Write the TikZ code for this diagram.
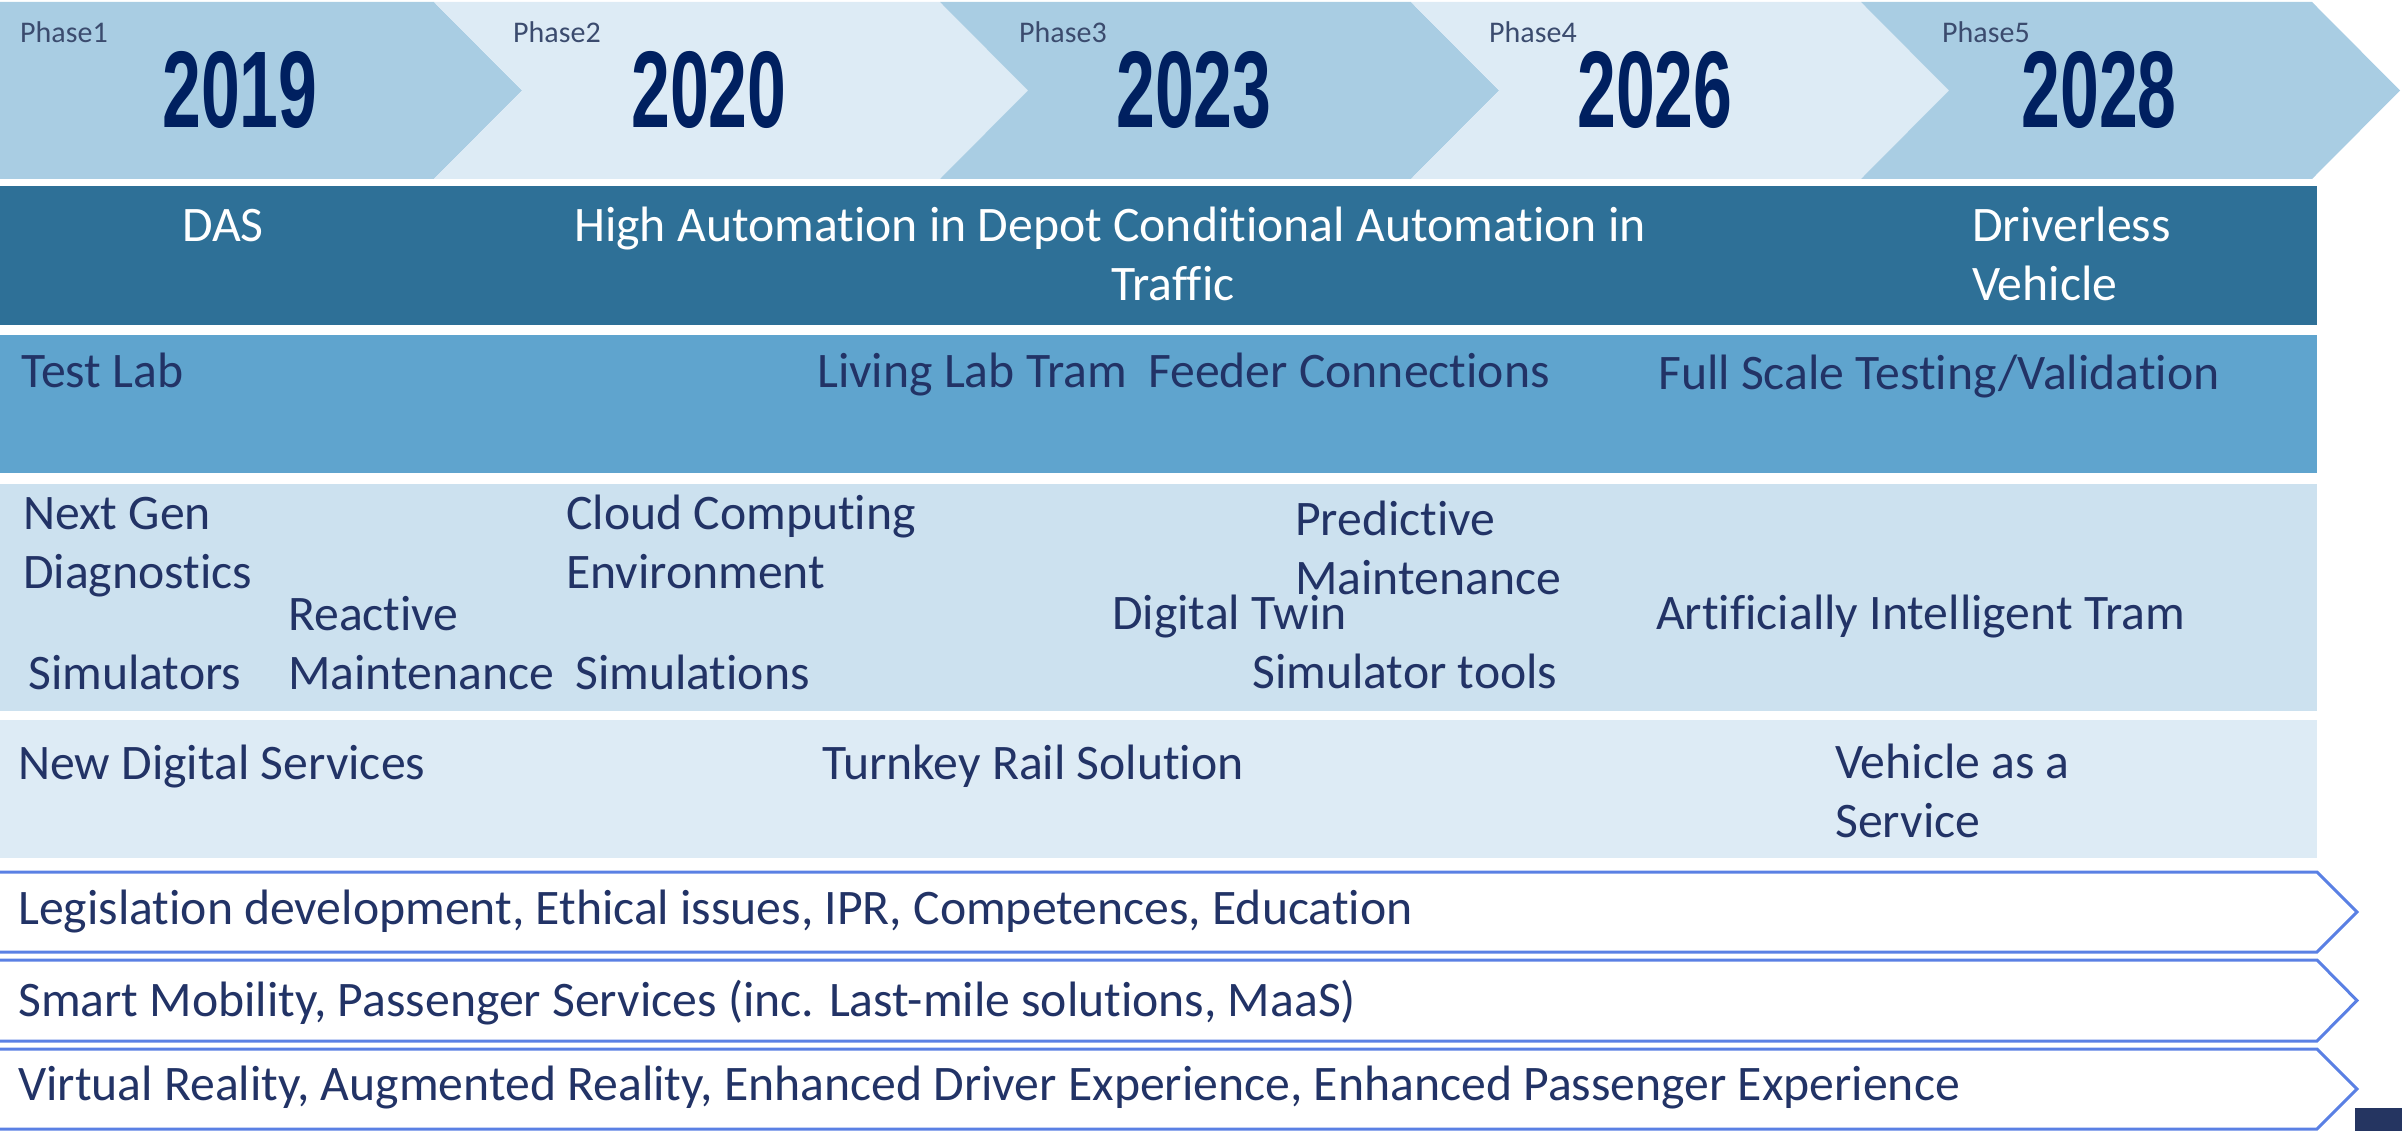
\documentclass[tikz,border=0pt]{standalone}
\usepackage{fontspec}
\usepackage{graphicx}
\setmainfont{Carlito}[Ligatures={NoCommon}]
\newfontfamily\yearfont{Liberation Sans}
\definecolor{chevA}{HTML}{A9CDE3}
\definecolor{chevB}{HTML}{DDEBF5}
\definecolor{bandDark}{HTML}{2E7097}
\definecolor{bandMid}{HTML}{5FA4CE}
\definecolor{bandLight}{HTML}{CCE1EF}
\definecolor{bandPale}{HTML}{DDEBF5}
\definecolor{outl}{HTML}{5A80E4}
\definecolor{txt}{HTML}{223366}
\definecolor{yeartxt}{HTML}{002060}
\definecolor{phasetxt}{HTML}{3B4B6E}
\definecolor{navysq}{HTML}{253561}
\tikzset{
  lbl/.style={inner sep=0pt, anchor=base west, font=\fontsize{49.7}{59}\selectfont, text=txt, align=left},
  wlbl/.style={lbl, text=white},
  phaselbl/.style={inner sep=0pt, anchor=base west, font=\fontsize{30}{36}\selectfont, text=phasetxt},
  yearlbl/.style={inner sep=0pt, anchor=base, text=yeartxt, font=\yearfont\bfseries\fontsize{109}{120}\selectfont},
  outlchev/.style={draw=outl, line width=3pt, line join=miter}
}
\newcommand{\yr}[1]{\scalebox{0.64}[1]{#1}}
\begin{document}
\begin{tikzpicture}[x=1pt,y=-1pt]
\useasboundingbox (0,0) rectangle (2402,1131);
% top chevrons
\fill[chevA] (0,2) -- (434,2) -- (522,90.5) -- (434,179) -- (0,179) -- cycle;
\fill[chevB] (434,2) -- (940,2) -- (1028,90.5) -- (940,179) -- (434,179) -- (522,90.5) -- cycle;
\fill[chevA] (940,2) -- (1411,2) -- (1499,90.5) -- (1411,179) -- (940,179) -- (1028,90.5) -- cycle;
\fill[chevB] (1411,2) -- (1861,2) -- (1949,90.5) -- (1861,179) -- (1411,179) -- (1499,90.5) -- cycle;
\fill[chevA] (1861,2) -- (2312,2) -- (2400,90.5) -- (2312,179) -- (1861,179) -- (1949,90.5) -- cycle;
% phase labels and years
\node[phaselbl] (p1) at (20,43) {Phase1};
\node[phaselbl] (p2) at (513,43) {Phase2};
\node[phaselbl] (p3) at (1019,43) {Phase3};
\node[phaselbl] (p4) at (1489,43) {Phase4};
\node[phaselbl] (p5) at (1942,43) {Phase5};
\node[yearlbl] (y1) at (240,128) {\yr{2019}};
\node[yearlbl] (y2) at (709,128) {\yr{2020}};
\node[yearlbl] (y3) at (1194,128) {\yr{2023}};
\node[yearlbl] (y4) at (1655,128) {\yr{2026}};
\node[yearlbl] (y5) at (2099,128) {\yr{2028}};
% bands
\fill[bandDark] (0,186) rectangle (2317,325);
\fill[bandMid] (0,335) rectangle (2317,473);
\fill[bandLight] (0,484) rectangle (2317,711);
\fill[bandPale] (0,720) rectangle (2317,858);
% dark band texts (multi-line nodes: base = last line)
\node[wlbl] (das) at (182,242) {DAS};
\node[wlbl] (hauto) at (574,242) {High Automation in Depot Conditional Automation in};
\node[wlbl] (traffic) at (1111,301) {Traffic};
\node[wlbl] (driverless) at (1972,301) {Driverless\\Vehicle};
% mid band
\node[lbl] (testlab) at (21,388) {Test Lab};
\node[lbl] (living) at (817,388) {Living Lab Tram};
\node[lbl] (feeder) at (1148,388) {Feeder Connections};
\node[lbl] (fullscale) at (1658,390) {Full Scale Testing/Validation};
% light band
\node[lbl] (nextgen) at (23,588) {Next Gen\\Diagnostics};
\node[lbl] (reactive) at (288,689) {Reactive\\Maintenance};
\node[lbl] (simulators) at (28,689) {Simulators};
\node[lbl] (cloud) at (566,588) {Cloud Computing\\Environment};
\node[lbl] (simulations) at (575,689) {Simulations};
\node[lbl] (predictive) at (1295,594) {Predictive\\Maintenance};
\node[lbl] (twin) at (1112,629) {Digital Twin};
\node[lbl] (simtools) at (1252,688) {Simulator tools};
\node[lbl] (ai) at (1656,629) {Artificially Intelligent Tram};
% pale band
\node[lbl] (newdig) at (18,779) {New Digital Services};
\node[lbl] (turnkey) at (822,779) {Turnkey Rail Solution};
\node[lbl] (vaas) at (1835,837) {Vehicle as a\\Service};
% outline chevrons
\draw[outlchev] (-5,872) -- (2317,872) -- (2357,912) -- (2317,952) -- (-5,952);
\draw[outlchev] (-5,960) -- (2317,960) -- (2357,1000.5) -- (2317,1041) -- (-5,1041);
\draw[outlchev] (-5,1049) -- (2317,1049) -- (2357,1089) -- (2317,1129) -- (-5,1129);
\node[lbl] (legis) at (18,924) {Legislation development, Ethical issues, IPR, Competences, Education};
\node[lbl] (smart) at (18,1016) {Smart Mobility, Passenger Services (inc. Last-mile solutions, MaaS)};
\node[lbl] (vr) at (18,1100) {Virtual Reality, Augmented Reality, Enhanced Driver Experience, Enhanced Passenger Experience};
% corner square
\fill[navysq] (2355,1108) rectangle (2402,1131);
\end{tikzpicture}
\end{document}
